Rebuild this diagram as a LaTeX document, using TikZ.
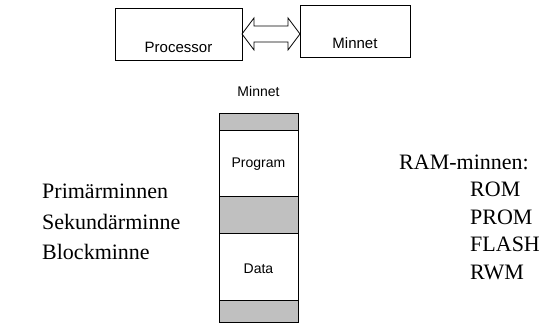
\documentclass[tikz,border=0pt]{standalone}
\usepackage{fontspec}
\setmainfont{Liberation Serif}
\setsansfont{Liberation Sans}
\usetikzlibrary{calc}
\begin{document}
\begin{tikzpicture}[x=1pt,y=-1pt,
  box/.style={draw=black, line width=0.8pt, fill=white, inner sep=0pt, outer sep=0pt},
  band/.style={draw=black, line width=0.8pt, fill=bandgrey, inner sep=0pt, outer sep=0pt, minimum width=79pt},
  wband/.style={band, fill=white},
  sanslbl/.style={font=\sffamily\fontsize{14}{16}\selectfont, inner sep=0pt, anchor=base},
  toplbl/.style={sanslbl, font=\sffamily\fontsize{15}{17}\selectfont},
  serlbl/.style={font=\rmfamily\fontsize{22}{26}\selectfont, inner sep=0pt, anchor=base west},
  arrowline/.style={draw=black, line width=0.8pt, line join=miter}
]
\definecolor{bandgrey}{RGB}{192,192,192}
\useasboundingbox (0,0) rectangle (560,336);

% top boxes
\node[box, minimum width=127pt, minimum height=52pt] (proc) at (178.5,34) {};
\node[toplbl] (proct) at (178.5,52.5) {Processor};
\node[box, minimum width=110pt, minimum height=52pt] (mem) at (355,31) {};
\node[toplbl] (memt) at (355,48.5) {Minnet};

% double arrow
\coordinate (L) at (proc.east);
\coordinate (R) at (mem.west |- proc.east);
\draw[arrowline] (L) -- ++(12,-16) -- ++(0,8) -- ($(R)+(-12,-8)$) -- ++(0,-8) -- (R)
  -- ++(-12,16) -- ++(0,-8) -- ($(L)+(12,8)$) -- ++(0,8) -- cycle;

% memory stack
\node[sanslbl] (stackt) at (258.5,97) {Minnet};
\node[band, minimum height=17pt, anchor=north] (g1) at (258.5,113) {};
\node[wband, minimum height=66pt, anchor=north] (prog) at (g1.south) {};
\node[band, minimum height=37pt, anchor=north] (g2) at (prog.south) {};
\node[wband, minimum height=67pt, anchor=north] (data) at (g2.south) {};
\node[band, minimum height=22pt, anchor=north] (g3) at (data.south) {};
\draw[line width=0.8pt] (g1.north west) rectangle (g3.south east);
\node[sanslbl] (progt) at (258.5,168) {Program};
\node[sanslbl] (datat) at (258.5,274) {Data};

% left list
\node[serlbl] (l1) at (42,198.5) {Primärminnen};
\node[serlbl] (l2) at (42,229.5) {Sekundärminne};
\node[serlbl] (l3) at (42,259.5) {Blockminne};

% right list
\node[serlbl] (r0) at (399,169.5) {RAM-minnen:};
\node[serlbl] (r1) at (470,196.5) {ROM};
\node[serlbl] (r2) at (470,224.5) {PROM};
\node[serlbl] (r3) at (470,251.5) {FLASH};
\node[serlbl] (r4) at (470,279.5) {RWM};
\end{tikzpicture}
\end{document}
